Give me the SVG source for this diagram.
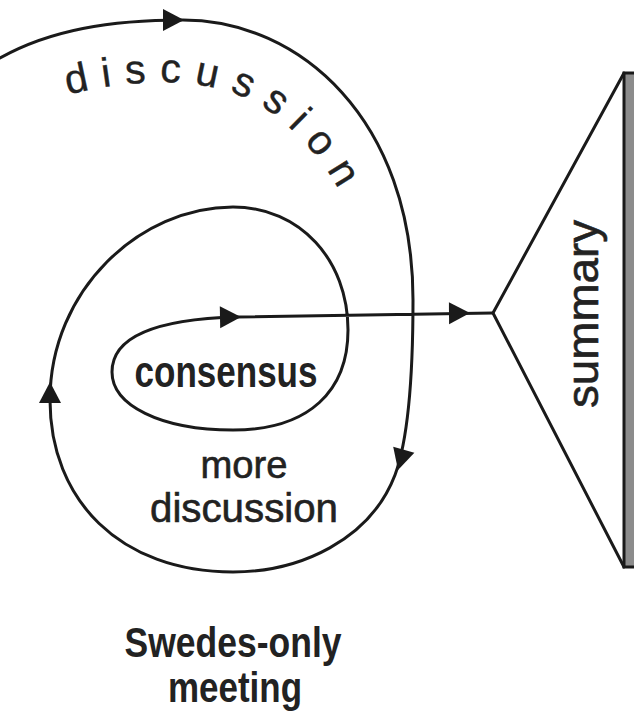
<svg xmlns="http://www.w3.org/2000/svg" width="634" height="711" viewBox="0 0 634 711">
<style>
  .ln { fill: none; stroke: #1a1a1a; stroke-width: 3; stroke-linecap: round; stroke-linejoin: round; }
  .ah { fill: #1a1a1a; }
  .lbl { font-family: "Liberation Sans", Arial, sans-serif; fill: #222; }
  .bold { font-weight: bold; }
</style>
<defs>
  <path id="ah" d="M0,0 L-21,-11 L-21,11 Z"/>
  <path id="discPath" d="M 60,97 C 130,78 200,76 250,100 C 290,120 325,160 350,210"/>
</defs>
<rect width="634" height="711" fill="#ffffff"/>

<g id="connectors">
  <path class="ln" d="M 0,58 C 50,30 110,20 183,20 C 300,20 413,120 413,300 C 413,380 408,440 395,475 C 370,540 300,572 233,572 C 120,572 50,500 50,400 C 50,290 140,207 233,207 C 300,207 348,260 348,330 C 348,390 310,430 233,430 C 160,430 112,405 112,372 C 112,335 160,319 237,317 L 493,313"/>
  <use href="#ah" class="ah" transform="translate(184,20)"/>
  <use href="#ah" class="ah" transform="translate(398,470) rotate(106)"/>
  <use href="#ah" class="ah" transform="translate(50,382) rotate(-90)"/>
  <use href="#ah" class="ah" transform="translate(241,317) rotate(-1)"/>
  <use href="#ah" class="ah" transform="translate(470,313) rotate(-0.5)"/>
</g>

<g id="label-discussion">
  <text class="lbl" font-size="41" letter-spacing="13.5" stroke="#222" stroke-width="0.4"><textPath href="#discPath" startOffset="8">discussion</textPath></text>
</g>

<g id="node-consensus">
  <text class="lbl bold" x="226" y="387" font-size="44" text-anchor="middle" textLength="183" lengthAdjust="spacingAndGlyphs">consensus</text>
</g>

<g id="label-more-discussion">
  <text class="lbl" x="244" y="478" font-size="39" text-anchor="middle" textLength="87" lengthAdjust="spacingAndGlyphs" stroke="#222" stroke-width="0.6">more</text>
  <text class="lbl" x="244" y="522" font-size="40" text-anchor="middle" textLength="188" lengthAdjust="spacingAndGlyphs" stroke="#222" stroke-width="0.6">discussion</text>
</g>

<g id="node-summary">
  <rect x="624" y="73" width="14" height="494" fill="#8c8c8c" stroke="#1a1a1a" stroke-width="3"/>
  <path class="ln" d="M 624,73 L 493,313 L 624,567"/>
  <text class="lbl" font-size="45" text-anchor="middle" textLength="188" lengthAdjust="spacingAndGlyphs" transform="translate(598,314) rotate(-90)" stroke="#222" stroke-width="0.6">summary</text>
</g>

<g id="label-meeting">
  <text class="lbl bold" x="233" y="657" font-size="42" text-anchor="middle" textLength="217" lengthAdjust="spacingAndGlyphs">Swedes-only</text>
  <text class="lbl bold" x="235" y="702" font-size="42" text-anchor="middle" textLength="134" lengthAdjust="spacingAndGlyphs">meeting</text>
</g>
</svg>
